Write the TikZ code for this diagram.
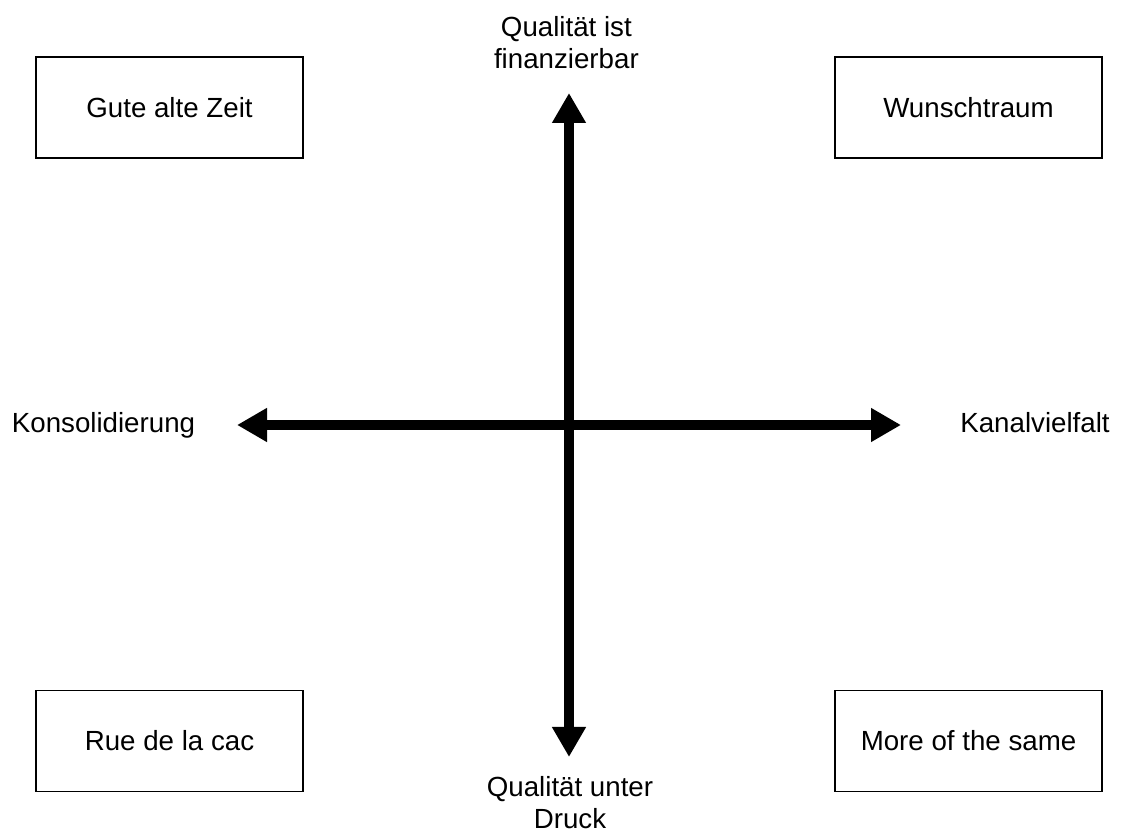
\documentclass[tikz,border=0pt]{standalone}
\usepackage{fontspec}
\setmainfont{Liberation Sans}
\usetikzlibrary{arrows.meta}

\begin{document}
\begin{tikzpicture}
% Configuration
\tikzset{
  scenario/.style={draw, line width=1.2pt, minimum width=6.675cm, minimum height=2.525cm, font=\fontsize{19.7}{22.7}\selectfont},
  axislabel/.style={align=center, font=\fontsize{19.7}{22.7}\selectfont},
  axis/.style={line width=6.7pt, {Triangle[width=0.8cm, length=0.75cm]}-{Triangle[width=0.8cm, length=0.75cm]}}
}
\useasboundingbox (0, 0) rectangle (28.05, 20.875);

% Scenarios
\node[scenario] (GA) at (4.2375, 18.1875) {Gute alte Zeit};
\node[scenario] (WT) at (24.2125, 18.1875) {Wunschtraum};
\node[scenario] (RC) at (4.2375, 2.35) {Rue de la cac};
\node[scenario] (MS) at (24.2125, 2.35) {More of the same};

% Axis labels
\node[axislabel] (Top) at (14.16, 19.8) {Qualität ist\\finanzierbar};
\node[axislabel] (Bottom) at (14.25, 0.8) {Qualität unter\\Druck};
\node[axislabel, anchor=base] (Left) at (2.5875, 10.06) {Konsolidierung};
\node[axislabel, anchor=base] (Right) at (25.875, 10.06) {Kanalvielfalt};

% Axis ends
\coordinate (N) at (14.225, 18.55);
\coordinate (S) at (14.225, 1.95);
\coordinate (W) at (5.925, 10.25);
\coordinate (E) at (22.525, 10.25);

% Axes
\draw[axis] (S) -- (N);
\draw[axis] (W) -- (E);
\end{tikzpicture}
\end{document}
